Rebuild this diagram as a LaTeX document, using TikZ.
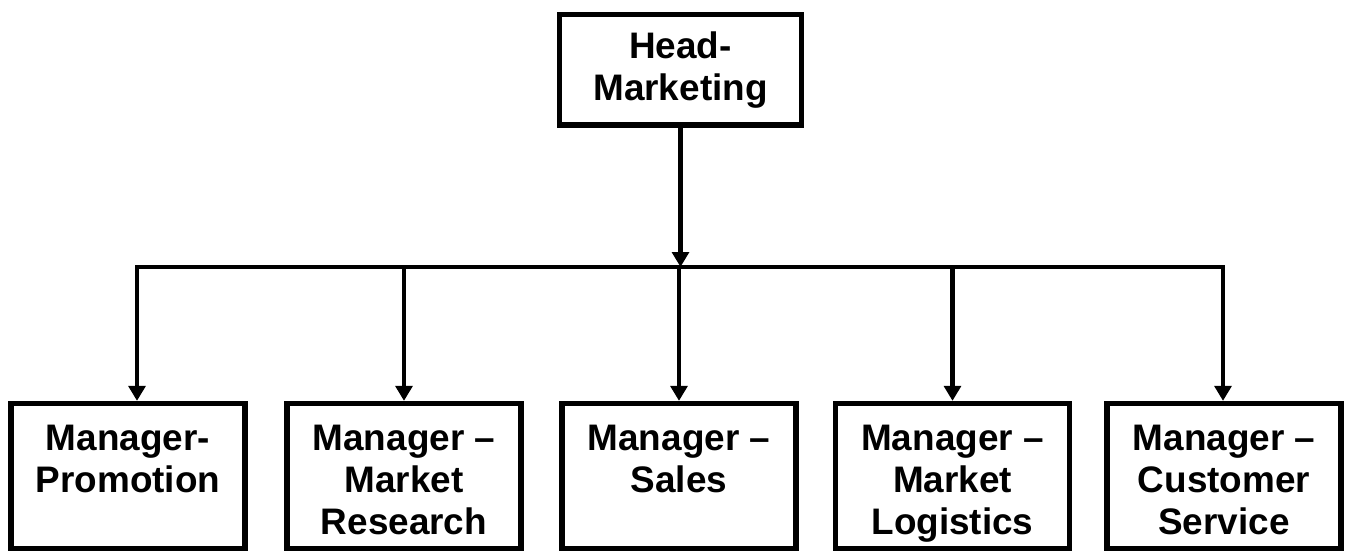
\documentclass[tikz,border=0pt]{standalone}
\usepackage{fontspec}
\setmainfont{Liberation Sans}
\usetikzlibrary{calc,arrows.meta}
\tikzset{
  head/.style={draw,line width=3pt,minimum width=4.85cm,minimum height=2.21cm,align=center,font=\fontsize{21}{24}\selectfont\bfseries},
  manager/.style={draw,line width=3pt,minimum width=4.68cm,minimum height=2.9cm,inner sep=0pt,font=\fontsize{21}{24}\selectfont\bfseries},
  link/.style={line width=2.6pt,-{Triangle[width=9.5pt,length=8.5pt]}},
  bus/.style={line width=2.6pt,line cap=rect}
}
\newcommand{\mgrtext}[1]{\parbox[c][2.04cm][t]{4.5cm}{\centering #1}}

\begin{document}
\begin{tikzpicture}
      \useasboundingbox (0,0) rectangle (26.98,-11.02);
      \node[head] (head) at (13.61,-1.395) {Head-\\Marketing};
      \node[manager] (promotion) at (2.56,-9.52) {\mgrtext{Manager-\\Promotion}};
      \node[manager] (research) at (8.08,-9.52) {\mgrtext{Manager –\\Market\\Research}};
      \node[manager] (sales) at (13.58,-9.52) {\mgrtext{Manager –\\Sales}};
      \node[manager] (logistics) at (19.05,-9.52) {\mgrtext{Manager –\\Market\\Logistics}};
      \node[manager] (service) at (24.48,-9.52) {\mgrtext{Manager –\\Customer\\Service}};
      \coordinate (busleft) at (2.74,-5.34);
      \coordinate (busright) at (24.46,-5.34);
      \draw[bus] (busleft) -- (busright);
      \draw[link] (head.south) -- (head.south |- busleft);
      \draw[link] (busleft) -- (busleft |- promotion.north);
      \draw[link] (research.north |- busleft) -- (research.north);
      \draw[link] (sales.north |- busleft) -- (sales.north);
      \draw[link] (logistics.north |- busleft) -- (logistics.north);
      \draw[link] (busright) -- (busright |- service.north);
    \end{tikzpicture}
\end{document}
